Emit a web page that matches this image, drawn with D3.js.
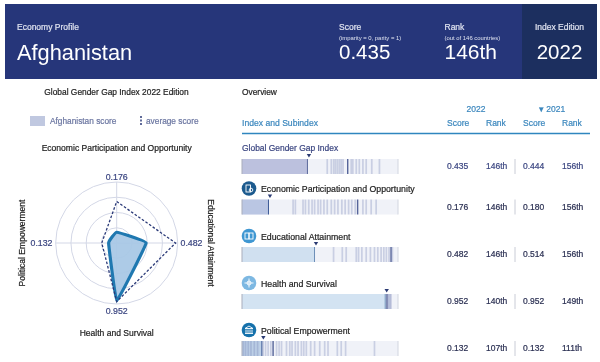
<!DOCTYPE html>
<html>
<head>
<meta charset="utf-8">
<script src="https://cdn.jsdelivr.net/npm/d3@7"></script>
<style>
    body { margin: 0; background: #fff; }
    svg { display: block; font-family: "Liberation Sans", Arial, sans-serif; filter: blur(0.4px); }
</style>
</head>
<body>
<div id="chart"></div>
<script>
// values
const subindexes = ["Global Gender Gap Index", "Economic Participation and Opportunity", "Educational Attainment", "Health and Survival", "Political Empowerment"];
const score2022 = [0.435, 0.176, 0.482, 0.952, 0.132];
const rank2022 = ["146th", "146th", "146th", "140th", "107th"];
const score2021 = [0.444, 0.180, 0.514, 0.952, 0.132];
const rank2021 = ["156th", "156th", "156th", "149th", "111th"];

// clockwise from the top of the radar
const radarAxes = ["Economic Participation and Opportunity", "Educational Attainment", "Health and Survival", "Political Empowerment"];
const radarScores = [0.176, 0.482, 0.952, 0.132];
const radarAverage = [0.68, 0.965, 0.96, 0.245];
const radarRings = [0.25, 0.5, 0.75, 1];

// other countries, one tick each
const globalTicks = [0.567, 0.594, 0.61, 0.622, 0.635, 0.648, 0.66, 0.672, 0.704, 0.726, 0.737, 0.76, 0.78, 0.804, 0.826, 0.863, 0.914];
const economicTicks = [0.34, 0.355, 0.406, 0.422, 0.444, 0.466, 0.483, 0.506, 0.523, 0.545, 0.567, 0.594, 0.616, 0.638, 0.664, 0.686, 0.709, 0.73, 0.753, 0.77, 0.804, 0.826, 0.859, 0.892];
const educationTicks = [0.609, 0.667, 0.693, 0.76, 0.775, 0.797, 0.826, 0.854, 0.881, 0.903, 0.925, 0.943, 0.96, 0.978, 0.992, 1];
const healthTicks = [0.965, 0.972, 0.978, 0.985, 0.991];
const politicalTicks = [0.009, 0.024, 0.042, 0.06, 0.082, 0.104, 0.141, 0.157, 0.174, 0.192, 0.208, 0.23, 0.247, 0.263, 0.296, 0.318, 0.333, 0.355, 0.373, 0.395, 0.411, 0.428, 0.457, 0.483, 0.517, 0.55, 0.572, 0.634, 0.66, 0.689, 0.881];
const rowTicks = [globalTicks, economicTicks, educationTicks, healthTicks, politicalTicks];
const darkTicks = [0.704, 0.77, 0.992, 0.965, 0.208];

const navy = "#26367a";
const ink = "#3a4580";
const teal = "#3a86bd";

const svg = d3.select("#chart").append("svg").attr("width", 600).attr("height", 362);

function label(parent, x, y, text, size, fill, anchor)
{
    return parent.append("text")
        .attr("x", x).attr("y", y)
        .attr("dy", "0.35em")
        .attr("text-anchor", anchor || "start")
        .attr("font-size", size)
        .attr("fill", fill)
        .attr("stroke", size > 7 && size < 10 ? fill : "none")
        .attr("stroke-width", 0.2)
        .text(text);
}

// Header band
svg.append("rect").attr("x", 5).attr("y", 4).attr("width", 592).attr("height", 75).attr("fill", navy);
svg.append("rect").attr("x", 522).attr("y", 4).attr("width", 75).attr("height", 75).attr("fill", "#1c2f5f");
label(svg, 17, 27, "Economy Profile", 8.5, "#dfe3f0");
label(svg, 17, 52, "Afghanistan", 21.8, "#fff");
label(svg, 339, 27, "Score", 8.5, "#dfe3f0");
label(svg, 339, 38, "(imparity = 0, parity = 1)", 5.9, "#dfe3f0");
label(svg, 339, 52, "0.435", 20.5, "#fff");
label(svg, 444.5, 27, "Rank", 8.5, "#dfe3f0");
label(svg, 444.5, 38, "(out of 146 countries)", 5.9, "#dfe3f0");
label(svg, 444.5, 52, "146th", 21, "#fff");
label(svg, 559.5, 27, "Index Edition", 8.5, "#dfe3f0", "middle");
label(svg, 559.5, 52, "2022", 20.5, "#fff", "middle");

// Left panel
label(svg, 116.5, 92, "Global Gender Gap Index 2022 Edition", 8.4, "#222", "middle");
svg.append("rect").attr("x", 30).attr("y", 116).attr("width", 15).attr("height", 10).attr("fill", "#c0c8e0");
label(svg, 50, 121, "Afghanistan score", 8.3, "#6a75a0");
svg.append("line").attr("x1", 141).attr("x2", 141).attr("y1", 116).attr("y2", 126)
    .attr("stroke", "#2b3a78").attr("stroke-width", 1.5).attr("stroke-dasharray", "2,1.5");
label(svg, 146, 121, "average score", 8.3, "#6a75a0");

// Radar
const radar = svg.append("g").attr("transform", "translate(116.7,243)");
const radius = d3.scaleLinear().domain([0, 1]).range([0, 61]);
const angle = d3.scalePoint().domain(radarAxes).range([0, 1.5 * Math.PI]);

radar.selectAll(".ring").data(radarRings).enter().append("circle")
    .attr("r", d => radius(d))
    .attr("fill", "none")
    .attr("stroke", "#d3d7e6");
radar.selectAll(".spoke").data(radarAxes).enter().append("line")
    .attr("x2", d => radius(1) * Math.sin(angle(d)))
    .attr("y2", d => -radius(1) * Math.cos(angle(d)))
    .attr("stroke", "#d3d7e6");

const radarLine = d3.lineRadial()
    .angle((d, i) => angle(radarAxes[i]))
    .radius(d => radius(d))
    .curve(d3.curveLinearClosed);

// the economy's shape has softened corners in the original
radar.append("path").attr("d", radarLine.curve(d3.curveCardinalClosed.tension(0.8))(radarScores))
    .attr("fill", "#a9c8e6")
    .attr("fill-opacity", 0.95)
    .attr("stroke", "#1f78b0")
    .attr("stroke-width", 3.2)
    .attr("stroke-linejoin", "round");
radar.append("path").attr("d", radarLine.curve(d3.curveLinearClosed)(radarAverage))
    .attr("fill", "none")
    .attr("stroke", "#2b3a78")
    .attr("stroke-width", 1.3)
    .attr("stroke-dasharray", "2.6,1.8");

label(svg, 116.7, 176.5, d3.format(".3f")(radarScores[0]), 8.8, ink, "middle");
label(svg, 191.5, 243, d3.format(".3f")(radarScores[1]), 8.8, ink, "middle");
label(svg, 116.7, 311, d3.format(".3f")(radarScores[2]), 8.8, ink, "middle");
label(svg, 41.5, 243, d3.format(".3f")(radarScores[3]), 8.8, ink, "middle");
label(svg, 116.7, 148, radarAxes[0], 8.55, "#222", "middle");
label(svg, 116.7, 333, radarAxes[2], 8.55, "#222", "middle");
label(svg, 0, 0, radarAxes[1], 8.55, "#222", "middle").attr("transform", "translate(211,243) rotate(90)");
label(svg, 0, 0, radarAxes[3], 8.55, "#222", "middle").attr("transform", "translate(21.5,243) rotate(-90)");

// Right panel header
label(svg, 242, 92, "Overview", 8.4, "#222");
label(svg, 242, 123, "Index and Subindex", 8.6, teal);
label(svg, 476, 109, "2022", 8.5, teal, "middle");
label(svg, 552, 109, "\u25BE 2021", 8.5, teal, "middle");
const columns = [447, 486, 523, 562];
["Score", "Rank", "Score", "Rank"].forEach((d, i) => label(svg, columns[i], 123, d, 8.5, teal));
svg.append("line").attr("x1", 242).attr("x2", 590).attr("y1", 133.5).attr("y2", 133.5)
    .attr("stroke", "#2f86bf").attr("stroke-width", 1.4);

// Subindex rows
const x = d3.scaleLinear().domain([0, 1.037]).range([242, 398]);
const rowTop = [159, 199.5, 247, 294, 341];
const barHeight = 15;
const barFill = ["#bcc1de", "#bac6e3", "#d0e0f0", "#d3e3f2", "#bccfe6"];
const edgeColor = ["#5c6a9c", "#3d5a96", "#6d8fb8", "#6d8fb8", "#3d5a96"];
const iconColor = [null, "#1c5a8e", "#3f97d2", "#7db8e2", "#1571ab"];

subindexes.forEach((name, i) => {
    const top = rowTop[i];
    const g = svg.append("g");

    g.append("rect").attr("x", x(0)).attr("y", top)
        .attr("width", x(1.037) - x(0)).attr("height", barHeight)
        .attr("fill", "#f0f2f8");
    g.append("rect").attr("x", x(0)).attr("y", top)
        .attr("width", x(score2022[i]) - x(0)).attr("height", barHeight)
        .attr("fill", barFill[i]);

    g.selectAll(".tick").data(rowTicks[i]).enter().append("rect")
        .attr("x", d => x(d) - 0.9)
        .attr("y", top)
        .attr("width", d => d === darkTicks[i] ? 1.4 : 1.7)
        .attr("height", barHeight)
        .attr("fill", d => d === darkTicks[i] ? "#46558f" : "#6f7fb4")
        .attr("opacity", d => d === darkTicks[i] ? 0.9 : 0.3);

    // ends of the bar and the economy's own score
    g.append("rect").attr("x", x(0) - 0.5).attr("y", top).attr("width", 1).attr("height", barHeight).attr("fill", "#a9adbb");
    g.append("rect").attr("x", x(1.037) - 0.5).attr("y", top).attr("width", 1).attr("height", barHeight).attr("fill", "#d2d5df");
    g.append("rect").attr("x", x(score2022[i]) - 0.5).attr("y", top).attr("width", 1).attr("height", barHeight).attr("fill", edgeColor[i]);

    // marker above the bar
    const mx = x(score2022[i]) + 1.5;
    g.append("path")
        .attr("d", d3.line()([[mx - 2.2, top - 5], [mx + 2.2, top - 5], [mx, top - 1.5]]))
        .attr("fill", "#2a3a72");

    if (i === 0) {
        label(g, 242, top - 10.5, name, 8.45, ink);
    } else {
        const cy = top - 11;
        g.append("circle").attr("cx", 249).attr("cy", cy).attr("r", 7.3).attr("fill", iconColor[i]);
        drawIcon(g, i, 249, cy);
        label(g, 261, top - 10.5, name, 8.75, "#222");
    }

    const cy = top + barHeight / 2;
    const textColor = i === 0 ? ink : "#2a2f52";
    label(g, columns[0], cy, d3.format(".3f")(score2022[i]), 8.5, textColor);
    label(g, columns[1], cy, rank2022[i], 8.5, textColor);
    label(g, columns[2], cy, d3.format(".3f")(score2021[i]), 8.5, textColor);
    label(g, columns[3], cy, rank2021[i], 8.5, textColor);
    g.append("line").attr("x1", 515).attr("x2", 515).attr("y1", top).attr("y2", top + barHeight)
        .attr("stroke", "#c9ccd6");
});

// Small white glyphs inside the subindex circles
function drawIcon(g, i, cx, cy)
{
    const icon = g.append("g").attr("transform", "translate(" + cx + "," + cy + ")")
        .attr("fill", "none").attr("stroke", "#fff").attr("stroke-width", 0.9);
    if (i === 1) {
        icon.append("rect").attr("x", -3).attr("y", -3.5).attr("width", 4.5).attr("height", 7);
        icon.append("circle").attr("cx", 2).attr("cy", 1.5).attr("r", 1.8);
    } else if (i === 2) {
        icon.append("rect").attr("x", -4).attr("y", -3).attr("width", 3.8).attr("height", 6);
        icon.append("rect").attr("x", 0.2).attr("y", -3).attr("width", 3.8).attr("height", 6);
    } else if (i === 3) {
        icon.append("line").attr("x1", -4.5).attr("x2", 4.5);
        icon.append("line").attr("y1", -4.5).attr("y2", 4.5);
        icon.append("circle").attr("r", 2);
    } else {
        icon.append("path").attr("d", "M-4,-1.5L0,-4L4,-1.5ZM-3,-0.5V3M-1,-0.5V3M1,-0.5V3M3,-0.5V3M-4,3.5H4");
    }
}
</script>
</body>
</html>
